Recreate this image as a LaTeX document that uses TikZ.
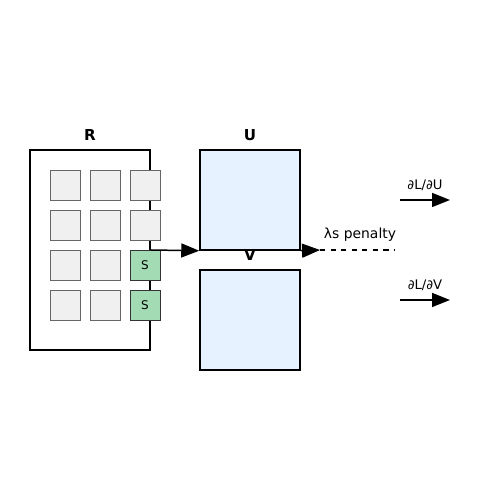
\documentclass[tikz,border=0pt]{standalone}
\usepackage{fontspec}
\setmainfont{DejaVu Sans}
\usetikzlibrary{arrows.meta}
\definecolor{cellgray}{RGB}{240, 240, 240}
\definecolor{cellgreen}{RGB}{163, 219, 180}
\definecolor{matblue}{RGB}{230, 242, 255}

\tikzset{
  mat/.style={draw, line width=0.85pt, minimum width=2cm, minimum height=2cm, inner sep=0pt, fill=matblue},
  cell/.style={draw=black!60, line width=0.55pt, fill=cellgray, minimum size=0.6cm, inner sep=0pt},
  scell/.style={cell, draw=black!80, fill=cellgreen, font=\fontsize{6.8}{8}\selectfont},
  lbl/.style={font=\fontsize{8.6}{10}\selectfont\bfseries},
  txt/.style={font=\fontsize{7.9}{9}\selectfont},
  grad/.style={font=\fontsize{7.5}{9}\selectfont},
  arr/.style={line width=0.85pt, -{Triangle[length=0.36cm, width=0.28cm]}}
}

\begin{document}
\begin{tikzpicture}
  \useasboundingbox (0,0) rectangle (10,10);

  % rating matrix
  \node[draw, line width=0.85pt, minimum width=2.4cm, minimum height=4cm, inner sep=0pt] (R) at (1.8,5) {};
  \node[lbl] (Rlbl) at (1.8,7.3) {R};
  \foreach \i/\y in {1/6.3, 2/5.5, 3/4.7, 4/3.9} {
    \node[cell] (c\i1) at (1.3,\y) {};
    \node[cell] (c\i2) at (2.1,\y) {};
  }
  \node[cell] (c13) at (2.9,6.3) {};
  \node[cell] (c23) at (2.9,5.5) {};
  \node[scell] (c33) at (2.9,4.7) {S};
  \node[scell] (c43) at (2.9,3.9) {S};

  % factor matrices
  \node[mat] (U) at (5,6) {};
  \node[lbl] (Ulbl) at (5,7.3) {U};
  \node[mat] (V) at (5,3.6) {};
  \node[lbl] (Vlbl) at (5,4.9) {V};

  \draw[arr] (R.east) -- (U.south west);

  % penalty
  \coordinate (pen) at (6.4,5);
  \coordinate (penend) at (7.9,5);
  \draw[arr] (U.south east) -- (pen);
  \draw[line width=0.85pt, dashed] (pen) -- (penend);
  \node[txt] (penlbl) at (7.2,5.3) {λs penalty};

  % gradients
  \coordinate (gu1) at (8,6);
  \coordinate (gu2) at (9,6);
  \coordinate (gv1) at (8,4);
  \coordinate (gv2) at (9,4);
  \draw[arr] (gu1) -- (gu2);
  \draw[arr] (gv1) -- (gv2);
  \node[grad] (gulbl) at (8.5,6.3) {∂L/∂U};
  \node[grad] (gvlbl) at (8.5,4.3) {∂L/∂V};
\end{tikzpicture}
\end{document}
